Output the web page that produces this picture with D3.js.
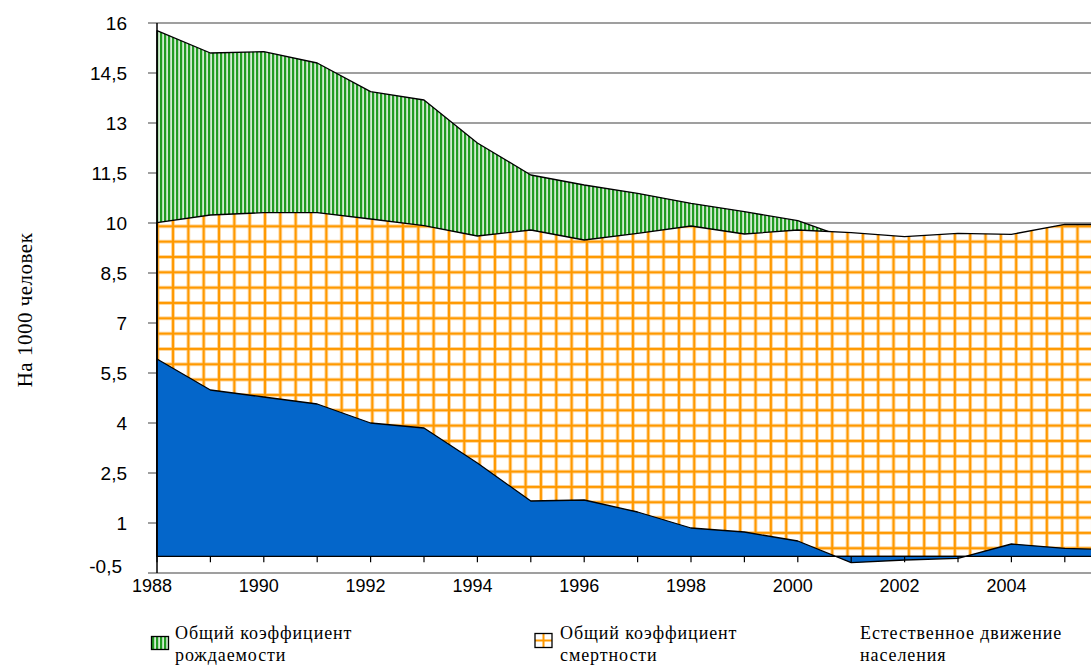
<!DOCTYPE html>
<html>
<head>
<meta charset="utf-8">
<script src="https://cdn.jsdelivr.net/npm/d3@7"></script>
<style>
  body { margin: 0; background: #fff; }
  svg { display: block; }
</style>
</head>
<body>
<div id="chart"></div>
<script>
// values
const years = [1988, 1989, 1990, 1991, 1992, 1993, 1994, 1995, 1996, 1997, 1998, 1999, 2000, 2001, 2002, 2003, 2004, 2005, 2006]
const birthRate = [15.77, 15.1, 15.14, 14.8, 13.94, 13.69, 12.4, 11.44, 11.14, 10.89, 10.59, 10.34, 10.07, 9.5, 9.45, 9.6, 9.6, 9.8, 9.8]
const deathRate = [10.01, 10.24, 10.31, 10.31, 10.12, 9.92, 9.61, 9.79, 9.49, 9.69, 9.91, 9.67, 9.79, 9.71, 9.59, 9.69, 9.66, 9.96, 9.95]
const naturalIncrease = [5.92, 4.99, 4.78, 4.57, 4.0, 3.85, 2.8, 1.66, 1.69, 1.33, 0.85, 0.73, 0.46, -0.19, -0.11, -0.06, 0.37, 0.24, 0.19]

const yTicks = [-0.5, 1, 2.5, 4, 5.5, 7, 8.5, 10, 11.5, 13, 14.5, 16]
const yTickLabels = ['-0,5', '1', '2,5', '4', '5,5', '7', '8,5', '10', '11,5', '13', '14,5', '16']
const xLabelYears = [1988, 1990, 1992, 1994, 1996, 1998, 2000, 2002, 2004]

const yTitle = 'На 1000 человек'
const legendLabels = [
    ['Общий коэффициент', 'рождаемости'],
    ['Общий коэффициент', 'смертности'],
    ['Естественное движение', 'населения']
]

const width = 1091
const height = 669

const svg = d3.select('#chart')
    .append('svg')
    .attr('width', width)
    .attr('height', height)

const x = d3.scaleLinear()
    .domain([1988, 2006])
    .range([157, 157 + 18 * 53.4])

const y = d3.scaleLinear()
    .domain([-0.5, 16])
    .range([573, 23])

// fill patterns
const defs = svg.append('defs')

const green = defs.append('pattern')
    .attr('id', 'greenStripes')
    .attr('patternUnits', 'userSpaceOnUse')
    .attr('width', 4)
    .attr('height', 4)
green.append('rect').attr('width', 4).attr('height', 4).attr('fill', '#d2ecd2')
green.append('rect').attr('x', 0).attr('width', 2.2).attr('height', 4).attr('fill', '#229b22')

const cell = 15.33
const orange = defs.append('pattern')
    .attr('id', 'orangeGrid')
    .attr('patternUnits', 'userSpaceOnUse')
    .attr('x', 4.4 - cell / 2)
    .attr('y', 11.7 - cell / 2)
    .attr('width', cell)
    .attr('height', cell)
orange.append('rect').attr('width', cell).attr('height', cell).attr('fill', '#fff')
orange.append('rect').attr('x', cell / 2 - 1.6).attr('width', 3.2).attr('height', cell).attr('fill', '#ffc46e')
orange.append('rect').attr('y', cell / 2 - 1.6).attr('height', 3.2).attr('width', cell).attr('fill', '#ffc46e')
orange.append('rect').attr('x', cell / 2 - 1).attr('width', 2).attr('height', cell).attr('fill', '#ff9900')
orange.append('rect').attr('y', cell / 2 - 1).attr('height', 2).attr('width', cell).attr('fill', '#ff9900')

// gridlines (with the little stubs left of the axis)
svg.append('g')
    .selectAll('line')
    .data(yTicks)
    .enter().append('line')
    .attr('x1', x(1988) - 9)
    .attr('x2', x(2006))
    .attr('y1', d => y(d))
    .attr('y2', d => y(d))
    .attr('stroke', '#7f7f7f')
    .attr('stroke-width', 1.5)

// three overlapping areas, each from zero
const series = [
    { values: birthRate, fill: 'url(#greenStripes)' },
    { values: deathRate, fill: 'url(#orangeGrid)' },
    { values: naturalIncrease, fill: '#0466ca' }
]

const area = d3.area()
    .x((d, i) => x(years[i]))
    .y0(y(0))
    .y1(d => y(d))

svg.append('g')
    .selectAll('path')
    .data(series)
    .enter().append('path')
    .attr('d', d => area(d.values))
    .attr('fill', d => d.fill)
    .attr('stroke', '#000')
    .attr('stroke-width', 1.3)
    .attr('stroke-linejoin', 'round')

// y axis
svg.append('line')
    .attr('x1', x(1988))
    .attr('x2', x(1988))
    .attr('y1', y(16))
    .attr('y2', y(-0.5))
    .attr('stroke', '#000')
    .attr('stroke-width', 1.5)

svg.append('g')
    .selectAll('text')
    .data(yTicks)
    .enter().append('text')
    .attr('x', (d, i) => i == 0 ? 122 : 127)
    .attr('y', (d, i) => i == 0 ? y(d) - 7 : y(d))
    .attr('dy', '0.36em')
    .attr('text-anchor', 'end')
    .attr('font-family', 'Liberation Sans, Arial, sans-serif')
    .attr('font-size', 19)
    .attr('fill', '#000')
    .text((d, i) => yTickLabels[i])

// x axis ticks hang from the zero line
svg.append('g')
    .selectAll('line')
    .data(years)
    .enter().append('line')
    .attr('x1', d => x(d))
    .attr('x2', d => x(d))
    .attr('y1', y(0))
    .attr('y2', y(0) + 6)
    .attr('stroke', '#000')
    .attr('stroke-width', 1.2)

svg.append('g')
    .selectAll('text')
    .data(xLabelYears)
    .enter().append('text')
    .attr('x', d => x(d) - 5)
    .attr('y', 592)
    .attr('text-anchor', 'middle')
    .attr('font-family', 'Liberation Sans, Arial, sans-serif')
    .attr('font-size', 18)
    .attr('fill', '#000')
    .text(d => d)

svg.append('text')
    .attr('transform', 'translate(32,310) rotate(-90)')
    .attr('text-anchor', 'middle')
    .attr('font-family', 'Liberation Serif, Times New Roman, serif')
    .attr('font-size', 21)
    .attr('letter-spacing', 0.5)
    .attr('fill', '#000')
    .text(yTitle)

// legend
const legendX = [175, 560, 860]

const legend = svg.append('g')
    .selectAll('g')
    .data(legendLabels)
    .enter().append('g')
    .attr('transform', (d, i) => `translate(${legendX[i]},0)`)

legend.append('text')
    .attr('font-family', 'Liberation Serif, Times New Roman, serif')
    .attr('font-size', 18)
    .attr('letter-spacing', 0.9)
    .attr('fill', '#000')
    .selectAll('tspan')
    .data(d => d)
    .enter().append('tspan')
    .attr('x', 0)
    .attr('y', (d, i) => 639 + i * 22)
    .text(d => d)

// swatches
svg.append('rect')
    .attr('x', 151.5).attr('y', 636.5)
    .attr('width', 17).attr('height', 13)
    .attr('fill', 'url(#greenStripes)')
    .attr('stroke', '#000')
    .attr('stroke-width', 1.3)

const sw = svg.append('g').attr('transform', 'translate(535,633.5)')
sw.append('rect').attr('width', 17).attr('height', 14).attr('fill', '#fff')
sw.append('rect').attr('x', 7.5).attr('width', 2).attr('height', 14).attr('fill', '#ff9900')
sw.append('rect').attr('y', 6).attr('width', 17).attr('height', 2).attr('fill', '#ff9900')
sw.append('rect').attr('width', 17).attr('height', 14).attr('fill', 'none')
    .attr('stroke', '#000').attr('stroke-width', 1.3)
</script>
</body>
</html>
